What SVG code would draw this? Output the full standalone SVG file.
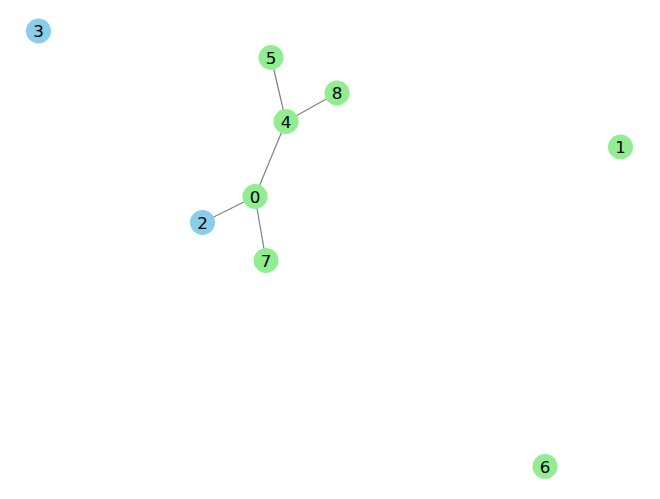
<svg xmlns="http://www.w3.org/2000/svg" width="660" height="499" viewBox="0 0 660 499">
<style>
.g{fill:#90EE90}
.b{fill:#87CEEB}
.e{stroke:#808080;stroke-width:1.2;fill:none}
text{font-family:"DejaVu Sans",sans-serif;font-size:16.7px;fill:#000;text-anchor:middle;dominant-baseline:central}
</style>
<rect width="660" height="499" fill="#fff"/>
<g id="edges">
<line class="e" x1="255" y1="196.5" x2="286" y2="121.5"/>
<line class="e" x1="255" y1="196.5" x2="202.5" y2="222.5"/>
<line class="e" x1="255" y1="196.5" x2="266" y2="260.5"/>
<line class="e" x1="286" y1="121.5" x2="271" y2="57.5"/>
<line class="e" x1="286" y1="121.5" x2="337" y2="93"/>
</g>
<g id="n3"><circle class="b" cx="38.5" cy="31" r="12.5"/><text x="38.5" y="31">3</text></g>
<g id="n5"><circle class="g" cx="271" cy="57.5" r="12.5"/><text x="271" y="57.5">5</text></g>
<g id="n8"><circle class="g" cx="337" cy="93" r="12.5"/><text x="337" y="93">8</text></g>
<g id="n4"><circle class="g" cx="286" cy="121.5" r="12.5"/><text x="286" y="121.5">4</text></g>
<g id="n1"><circle class="g" cx="620.5" cy="147" r="12.5"/><text x="620.5" y="147">1</text></g>
<g id="n0"><circle class="g" cx="255" cy="196.5" r="12.5"/><text x="255" y="196.5">0</text></g>
<g id="n2"><circle class="b" cx="202.5" cy="222.5" r="12.5"/><text x="202.5" y="222.5">2</text></g>
<g id="n7"><circle class="g" cx="266" cy="260.5" r="12.5"/><text x="266" y="260.5">7</text></g>
<g id="n6"><circle class="g" cx="545" cy="466.5" r="12.5"/><text x="545" y="466.5">6</text></g>
</svg>
